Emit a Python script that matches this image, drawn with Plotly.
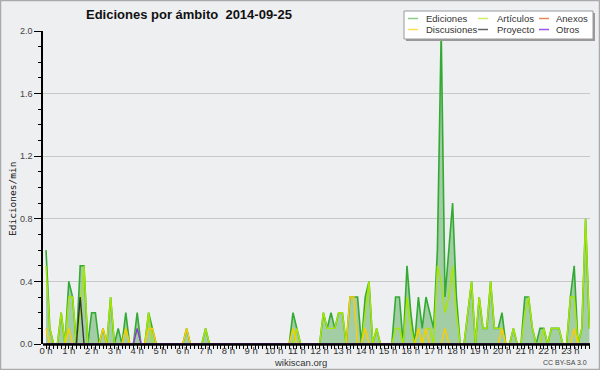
import plotly.graph_objects as go

# ---------------- data (edits/min, 10-minute bins, 24 h) ----------------
hour_labels = [f"{h} h" for h in range(24)]
bin_minutes = list(range(0, 1440, 10))

ediciones = [
    0.6, 0.1, 0, 0, 0.2, 0,        # 0 h
    0.4, 0.3, 0, 0.5, 0.5, 0,      # 1 h
    0.2, 0.2, 0, 0.1, 0, 0.3,      # 2 h
    0, 0.1, 0, 0.2, 0, 0,          # 3 h
    0.2, 0, 0, 0.2, 0.1, 0,        # 4 h
    0, 0, 0, 0, 0, 0,              # 5 h
    0, 0.1, 0, 0, 0, 0,            # 6 h
    0.1, 0, 0, 0, 0, 0,            # 7 h
    0, 0, 0, 0, 0, 0,              # 8 h
    0, 0, 0, 0, 0, 0,              # 9 h
    0, 0, 0, 0, 0, 0.2,            # 10 h
    0.1, 0, 0, 0, 0, 0,            # 11 h
    0, 0.2, 0.1, 0.2, 0.1, 0.2,    # 12 h
    0.2, 0, 0.3, 0.3, 0.3, 0,      # 13 h
    0.3, 0.4, 0, 0.1, 0, 0,        # 14 h
    0, 0, 0.3, 0.3, 0, 0.5,        # 15 h
    0.2, 0, 0.3, 0.1, 0.3, 0.2,    # 16 h
    0.1, 0.6, 2.0, 0.3, 0.6, 0.9,  # 17 h
    0.3, 0, 0, 0.2, 0.4, 0,        # 18 h
    0.3, 0.1, 0.1, 0.4, 0.1, 0.1,  # 19 h
    0.2, 0, 0, 0.1, 0, 0,          # 20 h
    0.3, 0.3, 0.1, 0, 0.1, 0.1,    # 21 h
    0, 0.1, 0.1, 0.1, 0, 0,        # 22 h
    0.3, 0.5, 0, 0.1, 0.8, 0.1,    # 23 h
]

articulos = [
    0.5, 0.1, 0, 0, 0.2, 0,
    0.3, 0.3, 0, 0.2, 0.5, 0,
    0, 0, 0, 0, 0, 0.3,
    0, 0, 0, 0.1, 0, 0,
    0.1, 0, 0, 0.2, 0, 0,
    0, 0, 0, 0, 0, 0,
    0, 0, 0, 0, 0, 0,
    0.1, 0, 0, 0, 0, 0,
    0, 0, 0, 0, 0, 0,
    0, 0, 0, 0, 0, 0,
    0, 0, 0, 0, 0, 0,
    0.1, 0, 0, 0, 0, 0,
    0, 0.2, 0.1, 0.1, 0.1, 0.2,
    0.2, 0, 0, 0, 0, 0,
    0.2, 0.4, 0, 0.1, 0, 0,
    0, 0, 0.1, 0.1, 0, 0.3,
    0.1, 0, 0.1, 0, 0.1, 0.1,
    0, 0.5, 0.4, 0.2, 0.3, 0.5,
    0.2, 0, 0, 0.2, 0.4, 0,
    0.3, 0.1, 0.1, 0.4, 0.1, 0.1,
    0.1, 0, 0, 0.1, 0, 0,
    0.2, 0.3, 0.1, 0, 0, 0.1,
    0, 0.1, 0.1, 0.1, 0, 0,
    0.3, 0.3, 0, 0.1, 0.8, 0.1,
]

discusiones = [
    0.1, 0, 0, 0, 0, 0,
    0.1, 0, 0, 0, 0, 0,
    0, 0, 0, 0.1, 0, 0,
    0, 0, 0, 0.1, 0, 0,
    0, 0, 0, 0.1, 0.1, 0,
    0, 0, 0, 0, 0, 0,
    0, 0.1, 0, 0, 0, 0,
    0, 0, 0, 0, 0, 0,
    0, 0, 0, 0, 0, 0,
    0, 0, 0, 0, 0, 0,
    0, 0, 0, 0, 0, 0.1,
    0, 0, 0, 0, 0, 0,
    0, 0, 0, 0, 0, 0,
    0, 0, 0.3, 0.3, 0, 0,
    0.1, 0, 0, 0, 0, 0,
    0, 0, 0, 0, 0, 0,
    0, 0, 0.1, 0, 0.1, 0,
    0, 0, 0, 0.1, 0, 0,
    0, 0, 0, 0, 0, 0,
    0, 0, 0, 0, 0, 0,
    0.1, 0, 0, 0, 0, 0,
    0, 0, 0, 0, 0, 0,
    0, 0, 0, 0, 0, 0,
    0, 0.1, 0, 0, 0, 0,
]

proyecto = [0.0] * 144
proyecto[9] = 0.3          # 1 h 30
otros = [0.0] * 144
otros[24] = 0.1            # 4 h 00
anexos = [0.0] * 144

series_names = ["Ediciones", "Artículos", "Anexos", "Discusiones", "Proyecto", "Otros"]
series_colors = {
    "Ediciones": "#33aa33",
    "Artículos": "#a6e600",
    "Anexos": "#ff7733",
    "Discusiones": "#ffcc00",
    "Proyecto": "#333333",
    "Otros": "#8833ee",
}
legend_colors = {
    "Ediciones": "#88cc88",
    "Artículos": "#ccee66",
    "Anexos": "#ee8855",
    "Discusiones": "#ffdd55",
    "Proyecto": "#666666",
    "Otros": "#9955ee",
}
series_values = {
    "Ediciones": ediciones,
    "Artículos": articulos,
    "Anexos": anexos,
    "Discusiones": discusiones,
    "Proyecto": proyecto,
    "Otros": otros,
}

# ---------------- geometry helpers (pixels -> paper) ----------------
W, H = 600, 370
L, R, T, B = 43, 590, 31, 344
PW, PH = R - L, B - T


def px(x):
    return (x - L) / PW


def py(y):
    return (B - y) / PH


hours = [m / 60 for m in bin_minutes]
BG = "#eeeff1"
FONT = "Liberation Sans, Arial, sans-serif"

fig = go.Figure()

fig.add_trace(go.Scatter(
    x=hours, y=series_values["Ediciones"], mode="lines",
    line=dict(color=series_colors["Ediciones"], width=1.6),
    fill="tozeroy", fillcolor="rgba(60,160,60,0.42)",
    showlegend=False, hoverinfo="skip",
))
for name in ["Artículos", "Discusiones", "Anexos", "Proyecto", "Otros"]:
    fig.add_trace(go.Scatter(
        x=hours, y=series_values[name], mode="lines",
        line=dict(color=series_colors[name], width=1.4),
        showlegend=False, hoverinfo="skip",
    ))

shapes = []
annotations = []

# outer border
shapes.append(dict(type="rect", xref="paper", yref="paper",
                   x0=px(0.5), x1=px(W - 0.5), y0=py(H - 0.5), y1=py(0.5),
                   line=dict(color="#aaaaaa", width=1.5), layer="below"))

# x-axis baseline drawn above the traces (hides zero-level segments)
shapes.append(dict(type="line", xref="paper", yref="paper",
                   x0=0, x1=1, y0=py(B + 0.5), y1=py(B + 0.5),
                   line=dict(color="#000000", width=2.5), layer="above"))

# legend box with shadow
lb_x0, lb_x1, lb_y0, lb_y1 = 404, 593, 11, 39
shapes.append(dict(type="rect", xref="paper", yref="paper",
                   x0=px(lb_x0 + 2), x1=px(lb_x1 + 2), y0=py(lb_y1 + 2), y1=py(lb_y0 + 2),
                   fillcolor="#999999", line=dict(width=0), layer="above"))
shapes.append(dict(type="rect", xref="paper", yref="paper",
                   x0=px(lb_x0), x1=px(lb_x1), y0=py(lb_y1), y1=py(lb_y0),
                   fillcolor="#ffffff", line=dict(color="#999999", width=1), layer="above"))
col_sample_x = [408, 478, 539]
col_text_x = [424, 495, 554]
row_y = [18.5, 29.5]
for i, name in enumerate(series_names):
    r, c = divmod(i, 3)
    shapes.append(dict(type="line", xref="paper", yref="paper",
                       x0=px(col_sample_x[c]), x1=px(col_sample_x[c] + 10),
                       y0=py(row_y[r]), y1=py(row_y[r]),
                       line=dict(color=legend_colors[name], width=1.5), layer="above"))
    annotations.append(dict(text=name, xref="paper", yref="paper",
                            x=px(col_text_x[c]), y=py(row_y[r]),
                            xanchor="left", yanchor="middle", showarrow=False,
                            font=dict(family=FONT, size=9.5, color="#333333")))

# title
annotations.append(dict(text="<b>Ediciones por ámbito  2014-09-25</b>", xref="paper", yref="paper",
                        x=px(84), y=py(14), xanchor="left", yanchor="middle", showarrow=False,
                        font=dict(family=FONT, size=13, color="#111111")))
# y title
annotations.append(dict(text="Ediciones/min", xref="paper", yref="paper",
                        x=px(12), y=py(199), xanchor="center", yanchor="middle", showarrow=False,
                        textangle=-90,
                        font=dict(family="DejaVu Sans Mono, monospace", size=9.5, color="#111111")))
# footer
annotations.append(dict(text="wikiscan.org", xref="paper", yref="paper",
                        x=px(300), y=py(362), xanchor="center", yanchor="middle", showarrow=False,
                        font=dict(family=FONT, size=9.5, color="#333333")))
annotations.append(dict(text="CC BY-SA 3.0", xref="paper", yref="paper",
                        x=px(589), y=py(362), xanchor="right", yanchor="middle", showarrow=False,
                        font=dict(family=FONT, size=7, color="#444444")))

px_per_hour = 22.8
x0_hour = -(46 - L) / px_per_hour
x1_hour = x0_hour + PW / px_per_hour

fig.update_layout(
    width=W, height=H,
    margin=dict(l=L, r=W - R, t=T, b=H - B, pad=0),
    paper_bgcolor=BG, plot_bgcolor=BG,
    showlegend=False,
    shapes=shapes, annotations=annotations,
    xaxis=dict(
        range=[x0_hour, x1_hour],
        tickmode="array", tickvals=list(range(24)), ticktext=hour_labels,
        ticks="outside", ticklen=4, tickwidth=1, tickcolor="#000000",
        ticklabelstandoff=-6,
        tickfont=dict(family=FONT, size=9.5, color="#333333"),
        showgrid=False, zeroline=False,
        showline=False,
        minor=dict(dtick=1 / 6, tick0=0, ticks="outside", ticklen=4, tickwidth=1, tickcolor="#000000",
                   showgrid=False),
    ),
    yaxis=dict(
        range=[0, 2.0],
        tickmode="array", tickvals=[0, 0.4, 0.8, 1.2, 1.6, 2.0],
        ticktext=["0.0", "0.4", "0.8", "1.2", "1.6", "2.0"],
        ticks="outside", ticklen=7, tickwidth=1, tickcolor="#000000",
        tickfont=dict(family=FONT, size=9, color="#444444"),
        showgrid=True, gridcolor="#c8c8c8", gridwidth=1,
        zeroline=False,
        showline=True, linecolor="#000000", linewidth=1.5,
        minor=dict(dtick=0.1, tick0=0, ticks="outside", ticklen=3, tickwidth=1, tickcolor="#000000",
                   showgrid=False),
    ),
)

fig.write_html("out.html", config={"displayModeBar": False},
               post_script="document.body.style.margin='0px';")
